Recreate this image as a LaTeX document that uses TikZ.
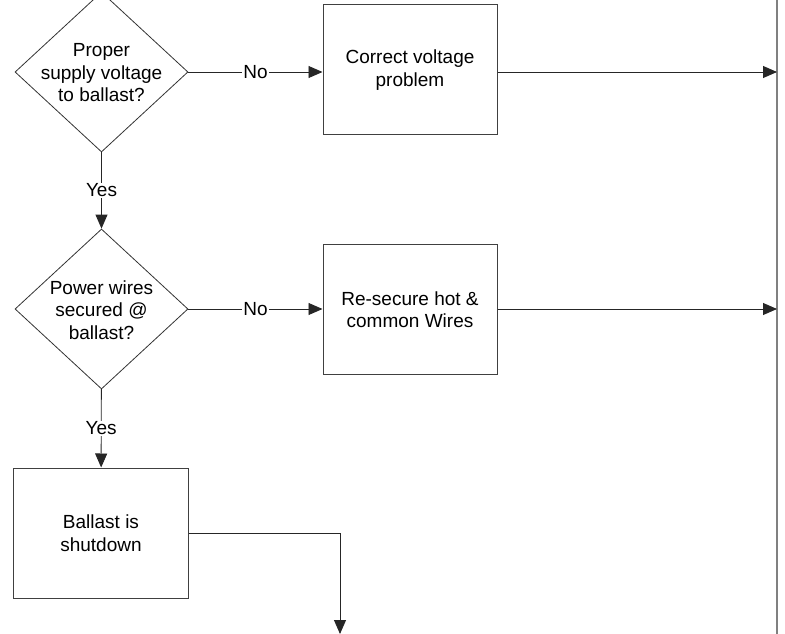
\documentclass[tikz,border=0pt]{standalone}
\usepackage{fontspec}
\setmainfont{Liberation Sans}
\usetikzlibrary{shapes.geometric,arrows.meta}
\begin{document}
\begin{tikzpicture}[x=1bp,y=-1bp,
  font=\fontsize{19bp}{22.5bp}\selectfont,
  line/.style={draw=black!85, line width=0.9bp},
  arr/.style={line, -{Triangle[length=14bp,width=12bp]}},
  box/.style={draw=black!75, line width=1bp, minimum width=174bp, minimum height=130bp, inner sep=0, align=center},
  dia/.style={diamond, draw=black!80, line width=0.8bp, minimum width=173bp, minimum height=160bp, inner sep=0},
  txt/.style={align=center, inner sep=0},
  lbl/.style={fill=white, inner sep=1bp}]
\useasboundingbox (0,0) rectangle (785,634);
% right bar
\coordinate (bartop) at (777,0);
\coordinate (barbot) at (777,634);
\draw[draw=black!50, line width=2bp] (bartop) -- (barbot);
% nodes
\node[dia] (d1) at (101.5,72) {};
\node[txt] (d1t) at (101.5,73) {Proper\\supply voltage\\to ballast?};
\node[box] (b1) at (410,70) {Correct voltage\\problem};
\node[dia] (d2) at (101.5,309) {};
\node[txt] (d2t) at (101.5,310) {Power wires\\secured @\\ballast?};
\node[box] (b2) at (410,309.5) {Re-secure hot \&\\common Wires};
\node[box] (b3) at (101,533) {Ballast is\\shutdown};
\coordinate (out) at (340,634);
% connectors
\draw[arr] (d1.east) -- node[lbl]{No} (d1.east -| b1.west);
\draw[arr] (d1) -- node[lbl]{Yes} (d2);
\draw[arr] (d2.east) -- node[lbl]{No} (d2.east -| b2.west);
\draw[arr] (d2) -- node[lbl]{Yes} (b3);
\draw[arr] (d1.east -| b1.east) -- (d1.east -| bartop);
\draw[arr] (d2.east -| b2.east) -- (d2.east -| bartop);
\draw[arr] (b3.east) -| (out);
\end{tikzpicture}
\end{document}
